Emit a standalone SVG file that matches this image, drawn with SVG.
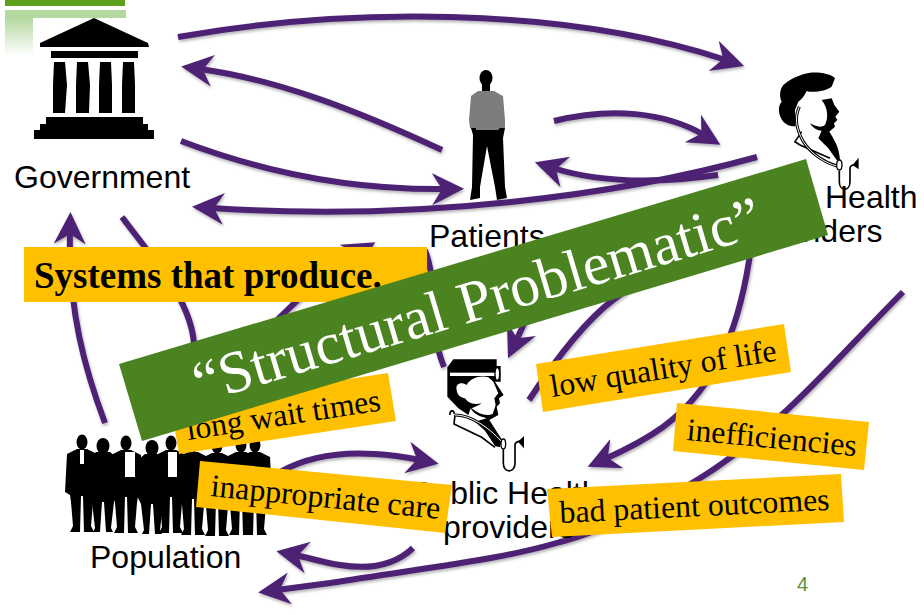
<svg xmlns="http://www.w3.org/2000/svg" xmlns:xlink="http://www.w3.org/1999/xlink" width="924" height="615" viewBox="0 0 924 615">
<style>
.c{fill:none;stroke:#4E2275;stroke-width:6}
.a{marker-end:url(#h)}
.l{font-family:"Liberation Sans",Arial,sans-serif;font-size:32px;fill:#000}
.t{font-family:"Liberation Serif","Times New Roman",serif;font-size:31.8px;fill:#000}
.y{fill:#FFC000}
.k{fill:#000}
.w{fill:#fff}
.s{fill:none;stroke:#000;stroke-width:5}
.o{fill:#fff;stroke:#000;stroke-width:4}
</style>
<defs>
<marker id="h" markerUnits="userSpaceOnUse" markerWidth="34" markerHeight="34" refX="13" refY="16" orient="auto" viewBox="0 0 34 34"><path d="M32 16L0 0L10 16L0 32Z" fill="#4E2275"/></marker>
<linearGradient id="fade" x1="0" y1="0" x2="0" y2="1"><stop offset="0" stop-color="#B5D8A0"/><stop offset="1" stop-color="#B5D8A0" stop-opacity="0"/></linearGradient>
<filter id="sh" x="-10%" y="-10%" width="120%" height="120%"><feDropShadow dx="1" dy="2" stdDeviation="1.5" flood-color="#000" flood-opacity=".3"/></filter>
<filter id="soft"><feGaussianBlur stdDeviation=".6"/></filter>
<g id="man"><ellipse cx="0" cy="0" rx="5.5" ry="7.5"/><path d="M-5 7L5 7L15 12L17 50L12 53L11 60L9 84L12 90L2 90L1 54L-1 54L-2 90L-12 90L-9 84L-11 60L-12 53L-17 50L-15 12Z"/></g>
<g id="woman"><ellipse cx="0" cy="2" rx="6.5" ry="8"/><path d="M-7 8L7 8L14 14L15 50L11 58L8 84L10 88L3 88L1 58L-1 58L-3 88L-10 88L-8 84L-11 58L-15 50L-14 14Z"/></g>
</defs>

<g id="theme">
<rect x="5" y="0" width="120" height="6" fill="#5BA11E"/>
<rect x="5" y="10" width="121" height="8" fill="#B5D8A0"/>
<rect x="5" y="18" width="28" height="38" fill="url(#fade)"/>
</g>

<g id="connectors" filter="url(#sh)">
<path class="c a" d="M178 37C340 8 560 5 726 60"/>
<path class="c a" d="M442 150C360 112 280 80 200 69"/>
<path class="c a" d="M181 141C270 175 360 190 445 189"/>
<path class="c a" d="M757 157C620 195 420 222 211 208"/>
<path class="c a" d="M554 121C610 107 665 112 704 135"/>
<path class="c a" d="M718 175C660 183 600 183 553 168"/>
<path class="c a" d="M105 423C85 370 68 310 70 231"/>
<path class="c" d="M122 217C150 255 192 300 194 345"/>
<path class="c a" d="M240 360C270 325 320 275 359 252"/>
<path class="c" d="M425 250C440 290 425 320 444 367"/>
<path class="c a" d="M535 300L516 341"/>
<path class="c" d="M529 400C550 368 580 325 613 300L640 280"/>
<path class="c a" d="M752 240C742 320 720 385 663 427C645 440 625 450 605 459"/>
<path class="c a" d="M903 292C860 335 820 380 787 410C760 435 730 460 697 480C650 510 590 535 560 542C500 560 430 567 330 583L277 590"/>
<path class="c a" d="M280 472C310 455 345 452 375 454C395 455 410 458 420 460"/>
<path class="c a" d="M413 548C395 565 370 570 340 565C325 563 310 558 295 555"/>
</g>

<g id="government">
<path class="k" d="M94 18L148 43L149 47L40 47L40 43Z"/>
<rect class="k" x="51" y="51" width="87" height="7"/>
<path class="k" d="M54 62H65L67 85L65 113H53L53 85Z"/>
<path class="k" d="M77 62H88L90 85L89 113H76L76 85Z"/>
<path class="k" d="M100 62H111L112 85L112 113H99L99 85Z"/>
<path class="k" d="M123 62H134L135 85L135 113H122L122 85Z"/>
<path class="k" d="M46 117H143V124H148V130H154V139H34V130H40V124H46Z"/>
<text class="l" x="14" y="188">Government</text>
</g>

<g id="patients">
<g filter="url(#soft)">
<ellipse class="k" cx="486" cy="78" rx="6.5" ry="8"/>
<rect class="k" x="482" y="84" width="8" height="8"/>
<path d="M478 91L494 91L503 96L505 120L505 128L500 130L474 130L470 128L469 120L471 96Z" fill="#7d7d7d"/>
<path class="k" d="M471 128L476 128L476 130L498 130L500 128L505 128L503 138L505 187L507 198L497 200L495 187L487 146L480 187L480 198L470 200L472 187L473 135Z"/>
</g>
<text class="l" x="429" y="247">Patients</text>
</g>

<g id="private-health-providers">
<g transform="translate(700 60) scale(.3333)">
<path class="k" d="M405 55C395 40 350 35 330 38C300 42 265 60 250 75C238 90 238 110 245 125C232 140 235 165 250 185C262 197 275 200 287 198L285 150L295 125C305 118 312 110 320 93C340 100 380 92 395 80Z"/>
<path class="k" d="M365 120L395 115L403 135L418 155L406 170L412 180L402 190L405 200L388 215C400 235 418 260 420 300L410 300L385 265L355 235L365 212C350 212 335 200 330 190C345 198 362 205 375 195C385 175 385 145 365 120Z"/>
<path class="s" d="M305 215L285 245L300 255L390 295"/>
<path d="M298 140C285 170 285 200 310 245C335 285 380 310 410 318" fill="none" stroke="#000" stroke-width="9"/>
<path d="M298 140C285 170 285 200 310 245C335 285 380 310 410 318" fill="none" stroke="#fff" stroke-width="3"/>
<ellipse class="o" cx="418" cy="315" rx="8" ry="15"/>
<path class="s" d="M418 332V365C418 395 450 395 450 365V325C450 315 460 315 470 312"/>
<path class="k" d="M476 293V328L458 315Z"/>
</g>
<text class="l" x="825" y="208">Health</text>
<text class="l" x="751" y="242">providers</text>
</g>

<g id="public-health-providers">
<g transform="translate(400 340) scale(.3333)">
<path class="k" d="M160 58H290V78H302V125H285L311 165L297 175L300 190L290 200L295 225L268 240L305 298L300 322L285 318L255 272L225 245L260 235C235 228 220 220 212 205L205 225L175 205L142 170V82Z"/>
<path class="w" d="M170 150C165 130 185 125 200 135C210 115 240 105 265 112L280 125L295 160L283 175L287 195L278 222C260 230 235 222 215 205C225 200 240 195 245 190C220 195 205 190 195 175C180 172 172 165 170 150Z"/>
<rect class="w" x="150" y="98" width="135" height="10"/>
<ellipse class="o" cx="292" cy="102" rx="7" ry="19"/>
<path class="s" d="M150 225C148 208 165 210 162 222M165 225L162 252L245 292L285 322"/>
<path d="M165 225C210 225 265 260 305 305" fill="none" stroke="#000" stroke-width="9"/>
<path d="M165 225C210 225 265 260 305 305" fill="none" stroke="#fff" stroke-width="3"/>
<ellipse class="o" cx="310" cy="312" rx="7" ry="15"/>
<path class="s" d="M310 328V370C310 400 345 400 345 370V315C345 305 355 305 365 302"/>
<path class="k" d="M372 288V325L354 305Z"/>
</g>
<text class="l" x="411" y="504">Public Health</text>
<text class="l" x="443" y="538">providers</text>
</g>

<g id="population">
<use href="#man" x="82" y="442" class="k"/>
<rect class="w" x="80" y="450" width="4" height="14"/>
<use href="#woman" x="103" y="444" class="k"/>
<use href="#man" x="126" y="443" class="k"/>
<rect class="w" x="125" y="452" width="10" height="25"/>
<use href="#woman" x="152" y="446" class="k"/>
<use href="#man" x="171" y="443" class="k"/>
<rect class="w" x="168" y="452" width="9" height="25"/>
<use href="#man" x="193" y="445" class="k"/>
<use href="#man" x="217" y="446" class="k"/>
<use href="#man" x="241" y="445" class="k"/>
<use href="#man" x="255" y="445" class="k"/>
<text class="l" x="90" y="568">Population</text>
</g>

<text id="page" x="797" y="591" font-family="'Liberation Sans',sans-serif" font-size="20" fill="#5A9038">4</text>

<g id="label-systems">
<rect class="y" x="24" y="247" width="403" height="55"/>
<text class="t" x="34" y="288" font-weight="bold" style="font-size:37px">Systems that produce.</text>
</g>
<g id="label-wait">
<path class="y" d="M171 406L388 373L396 421L179 454Z"/>
<text class="t" transform="translate(188 440) rotate(-8.7)">long wait times</text>
</g>
<g id="label-care">
<path class="y" d="M200 461L452 485L445 533L196 507Z"/>
<text class="t" transform="translate(210 496) rotate(5.7)">inappropriate care</text>
</g>
<g id="label-life">
<path class="y" d="M536 364L784 324L791 372L543 412Z"/>
<text class="t" transform="translate(552 397) rotate(-9.2)">low quality of life</text>
</g>
<g id="label-ineff">
<path class="y" d="M677 403L869 422L864 470L673 451Z"/>
<text class="t" transform="translate(686 440) rotate(5.4)">inefficiencies</text>
</g>
<g id="label-outcomes">
<path class="y" d="M547 489L841 474L844 522L552 537Z"/>
<text class="t" transform="translate(560 523) rotate(-2.8)">bad patient outcomes</text>
</g>
<g id="banner">
<path fill="#4B8320" d="M119 364L806 159L828 235L142 441Z"/>
<text transform="translate(200 403) rotate(-16.6)" font-family="'Liberation Serif','Times New Roman',serif" font-size="59.5" fill="#fff">“Structural Problematic”</text>
</g>
</svg>
